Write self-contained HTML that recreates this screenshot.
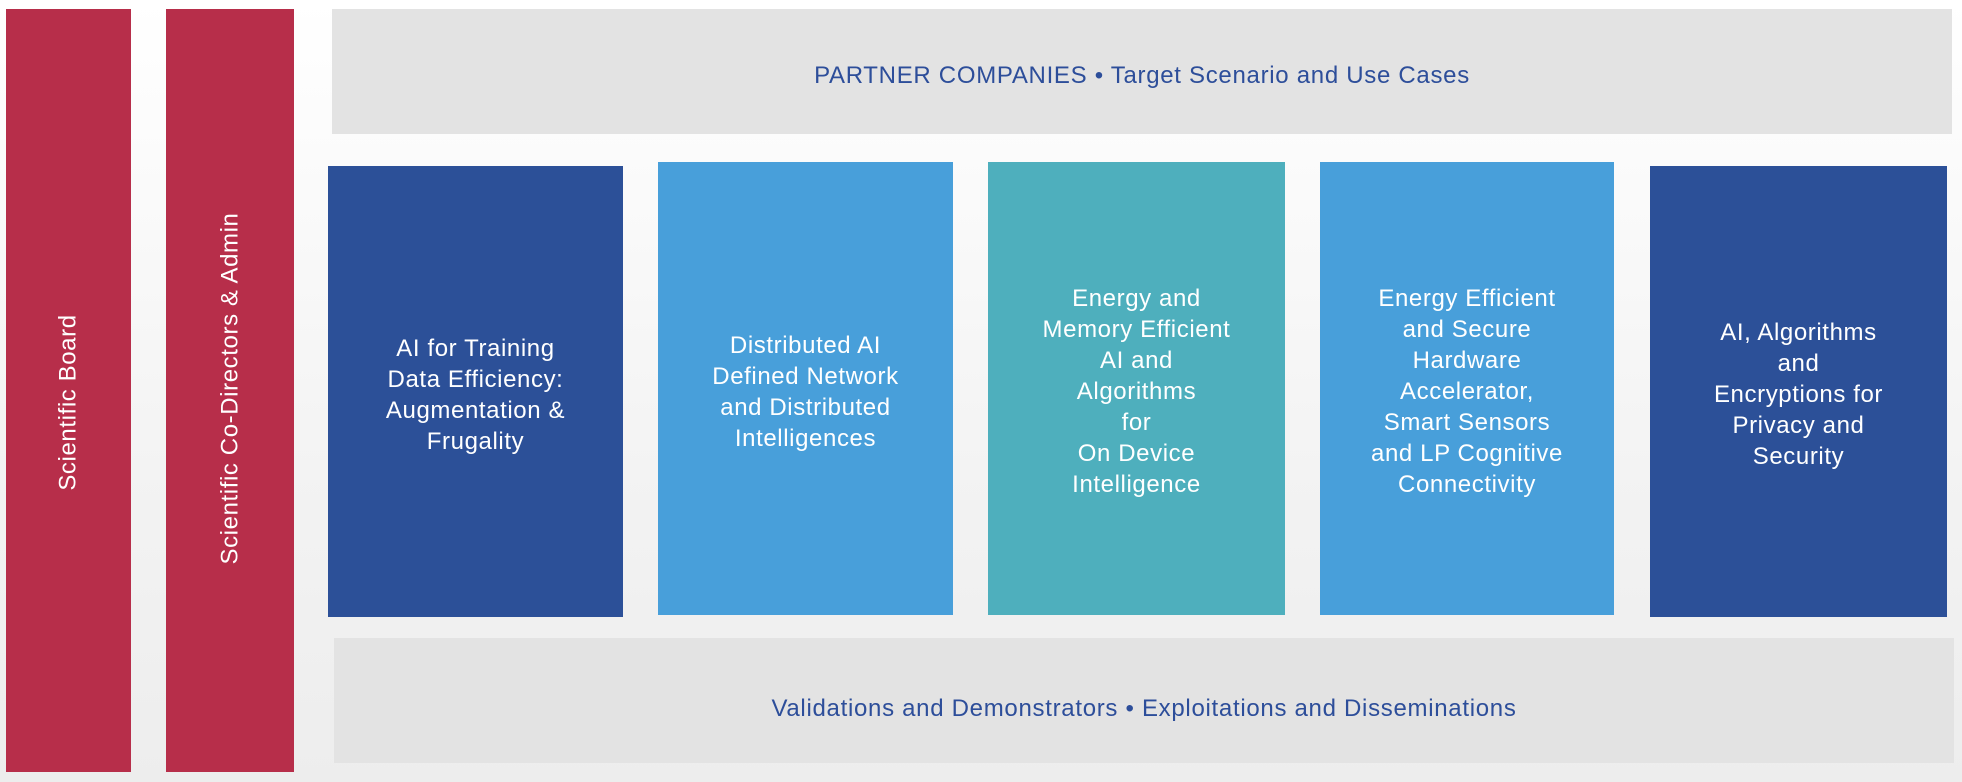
<!DOCTYPE html>
<html><head><meta charset="utf-8"><style>
html,body{margin:0;padding:0}
body{width:1962px;height:782px;position:relative;overflow:hidden;background:linear-gradient(#fff,#f3f3f3 60%,#ededed);font-family:"Liberation Sans",sans-serif}
.b{position:absolute;display:flex;align-items:center;justify-content:center;text-align:center;color:#fff;font-size:24px;line-height:31px;letter-spacing:0.6px}
.red{background:#B72E4A}
.g{background:#E3E3E3;color:#2D4E9A;font-size:24px;letter-spacing:0.7px}
.v{transform:rotate(-90deg);white-space:nowrap;font-size:24px;letter-spacing:0.6px}
</style></head><body>
<div class="b red" style="left:6px;top:9px;width:125px;height:763px"><div class="v" style="margin-top:24px">Scientific Board</div></div>
<div class="b red" style="left:166px;top:9px;width:128px;height:763px"><div class="v" style="margin-top:-4px">Scientific Co-Directors &amp; Admin</div></div>
<div class="b g" style="left:332px;top:9px;width:1620px;height:125px"><span style="margin-top:8px">PARTNER COMPANIES • Target Scenario and Use Cases</span></div>
<div class="b" style="left:328px;top:166px;width:295px;height:451px;background:#2C5098"><div style="margin-top:6px">AI for Training<br>Data Efficiency:<br>Augmentation &amp;<br>Frugality</div></div>
<div class="b" style="left:658px;top:162px;width:295px;height:453px;background:#489FDA"><div style="margin-top:6px">Distributed AI<br>Defined Network<br>and Distributed<br>Intelligences</div></div>
<div class="b" style="left:988px;top:162px;width:297px;height:453px;background:#4EAFBD"><div style="margin-top:6px">Energy and<br>Memory Efficient<br>AI and<br>Algorithms<br>for<br>On Device<br>Intelligence</div></div>
<div class="b" style="left:1320px;top:162px;width:294px;height:453px;background:#489FDA"><div style="margin-top:6px">Energy Efficient<br>and Secure<br>Hardware<br>Accelerator,<br>Smart Sensors<br>and LP Cognitive<br>Connectivity</div></div>
<div class="b" style="left:1650px;top:166px;width:297px;height:451px;background:#2C5098"><div style="margin-top:6px">AI, Algorithms<br>and<br>Encryptions for<br>Privacy and<br>Security</div></div>
<div class="b g" style="left:334px;top:638px;width:1620px;height:125px"><span style="margin-top:16px">Validations and Demonstrators • Exploitations and Disseminations</span></div>
</body></html>
